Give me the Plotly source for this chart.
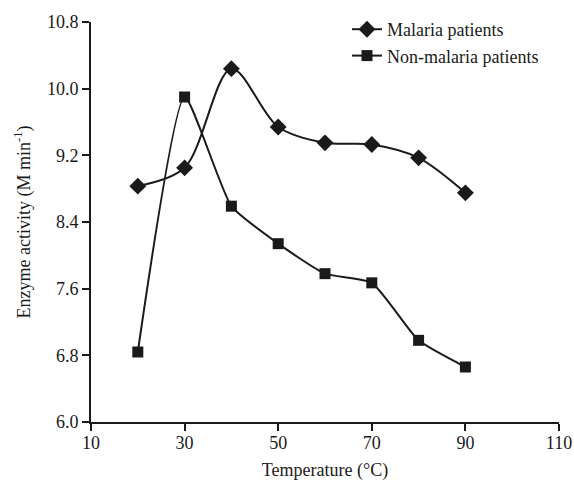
import plotly.graph_objects as go

temperature = [20, 30, 40, 50, 60, 70, 80, 90]
malaria = [8.83, 9.05, 10.24, 9.54, 9.35, 9.33, 9.17, 8.75]
non_malaria = [6.84, 9.90, 8.59, 8.14, 7.78, 7.67, 6.98, 6.66]

x_ticks = [10, 30, 50, 70, 90, 110]
y_ticks = [6.0, 6.8, 7.6, 8.4, 9.2, 10.0, 10.8]

ink = "#1a1a1a"
font = "Liberation Serif, Times New Roman, serif"

fig = go.Figure()
fig.add_trace(go.Scatter(
    x=temperature, y=malaria, name="Malaria patients",
    mode="lines+markers",
    line=dict(color=ink, width=2, shape="spline", smoothing=0.9),
    marker=dict(symbol="diamond", size=13, color=ink),
))
fig.add_trace(go.Scatter(
    x=temperature, y=non_malaria, name="Non-malaria patients",
    mode="lines+markers",
    line=dict(color=ink, width=2, shape="spline", smoothing=0.5),
    marker=dict(symbol="square", size=11, color=ink),
))

fig.update_layout(
    width=574, height=481,
    margin=dict(l=91, r=15, t=22, b=59, autoexpand=False),
    paper_bgcolor="white", plot_bgcolor="white",
    font=dict(family=font, size=18, color=ink),
    showlegend=True,
    legend=dict(x=0.547, y=1.0275, xanchor="left", yanchor="top",
                bgcolor="rgba(0,0,0,0)", font=dict(size=18, family=font),
                tracegroupgap=0, itemwidth=30),
    xaxis=dict(range=[10, 110], tickvals=x_ticks, ticktext=[str(v) for v in x_ticks],
               showgrid=False, zeroline=False, showline=True, linecolor=ink, linewidth=2,
               ticks="outside", ticklen=7, tickwidth=2, tickcolor=ink, automargin=False,
               ticklabelstandoff=-4,
               title=dict(text="Temperature (°C)", font=dict(size=18), standoff=13)),
    yaxis=dict(range=[6.0, 10.8], tickvals=y_ticks, ticktext=[f"{v:.1f}" for v in y_ticks],
               showgrid=False, zeroline=False, showline=True, linecolor=ink, linewidth=2,
               ticks="outside", ticklen=7, tickwidth=2, tickcolor=ink, automargin=False,
               title=dict(text="Enzyme activity (M min<sup>-1</sup>)", font=dict(size=18), standoff=12)),
)

fig.write_html(
    "out.html",
    config={"displayModeBar": False},
    post_script="document.body.style.margin='0';document.body.style.overflow='hidden';",
)
